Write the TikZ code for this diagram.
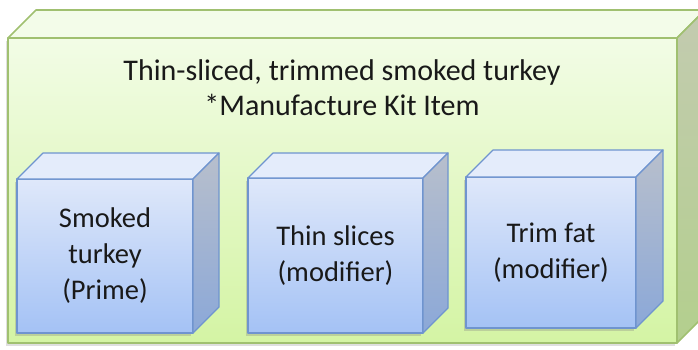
\documentclass[tikz,border=0pt]{standalone}
\usepackage{fontspec}
\setmainfont{Carlito}
\usetikzlibrary{shadows}
\definecolor{kitline}{HTML}{A0C070}
\definecolor{kittop}{HTML}{F3FCE9}
\definecolor{kitfronttop}{HTML}{F2FCE6}
\definecolor{kitfrontbot}{HTML}{D4F4A4}
\definecolor{kitsidetop}{HTML}{C3CBB0}
\definecolor{kitsidebot}{HTML}{B3CF8D}
\definecolor{partline}{HTML}{6F94CF}
\definecolor{parttop}{HTML}{E4ECFB}
\definecolor{partfronttop}{HTML}{DFE8FA}
\definecolor{partfrontbot}{HTML}{A4C2F5}
\definecolor{partsidetop}{HTML}{B8BFCC}
\definecolor{partsidebot}{HTML}{8BA8D8}

\begin{document}
\begin{tikzpicture}[x=1pt,y=-1pt,
  kitface/.style={draw=kitline, line width=1.6pt, line join=round},
  partface/.style={draw=partline, line width=1.2pt, line join=round},
  txt/.style={font=\fontsize{28.5}{36}\selectfont, align=center, text=black!90}]
\useasboundingbox (0,0) rectangle (698,349);
\clip (0,0) rectangle (698,349);
% outer kit box
\node[kitface, outer sep=0pt, inner sep=0pt, minimum width=669pt, minimum height=305pt,
  top color=kitfronttop, bottom color=kitfrontbot,
  drop shadow={shadow xshift=-2pt, shadow yshift=-3pt, opacity=.25}] (kit) at (342.5,190.5) {};
\draw[kitface, fill=kittop] (kit.north west) -- ++(28,-28) -- ++(669,0) -- (kit.north east) -- cycle;
\draw[kitface, top color=kitsidetop, bottom color=kitsidebot] (kit.north east) -- ++(28,-28) -- ++(0,305) -- (kit.south east) -- cycle;
\node[txt, font=\fontsize{30}{35}\selectfont] (title) at (342,88) {Thin-sliced, trimmed smoked turkey\\*Manufacture Kit Item};
% part boxes
\foreach \n/\cx/\cy/\w/\h/\d/\txt in {
  prime/105/256/176/154/26/{Smoked\\turkey\\(Prime)},
  slices/335.5/255.5/175/155/25/{Thin slices\\(modifier)},
  trim/551/252.5/170/151/27/{Trim fat\\(modifier)}}
{
 \node[partface, txt, outer sep=0pt, inner sep=0pt, minimum width=\w pt, minimum height=\h pt,
   top color=partfronttop, bottom color=partfrontbot,
   drop shadow={shadow xshift=-2pt, shadow yshift=-3pt, opacity=.3}] (\n) at (\cx,\cy) {\txt};
 \draw[partface, fill=parttop] (\n.north west) -- ++(\d,-\d) -- ++(\w,0) -- (\n.north east) -- cycle;
 \draw[partface, top color=partsidetop, bottom color=partsidebot] (\n.north east) -- ++(\d,-\d) -- ++(0,\h) -- (\n.south east) -- cycle;
}
\end{tikzpicture}
\end{document}
